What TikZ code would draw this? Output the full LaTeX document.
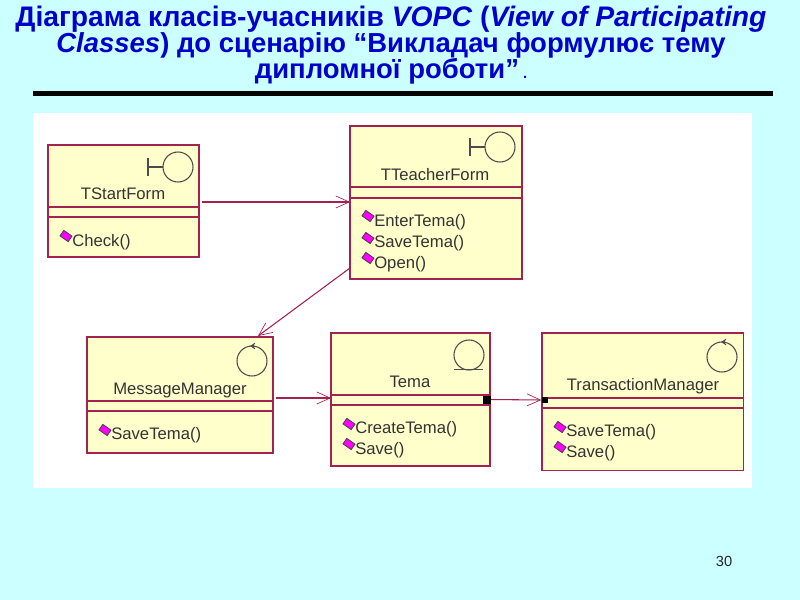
\documentclass[tikz,border=0pt]{standalone}
\usepackage{fontspec}
\setmainfont{Liberation Sans}
\usepackage{xcolor}
\usetikzlibrary{arrows.meta}
\definecolor{slidebg}{HTML}{CCFFFF}
\definecolor{boxfill}{HTML}{FFFFCC}
\definecolor{boxline}{HTML}{A3224F}
\definecolor{titleblue}{HTML}{0000CC}
\definecolor{markfill}{HTML}{FF00FF}
\tikzset{
  classbox/.style={draw=boxline,fill=boxfill,line width=1pt,minimum width=#1,inner sep=0pt},
  sepline/.style={draw=boxline,line width=0.9pt},
  classname/.style={font=\fontsize{12.5}{14}\selectfont,text=black!80,inner sep=0pt},
  methodname/.style={font=\fontsize{12.5}{14}\selectfont,text=black!80,anchor=west,inner sep=0pt},
  methodmark/.style={rectangle,rotate=-35,draw=black!75,fill=markfill,line width=0.6pt,minimum width=7.5pt,minimum height=5pt,inner sep=0pt},
  icon/.style={draw=black!70,line width=0.8pt},
  assoc/.style={draw=boxline,line width=0.8pt,-{Straight Barb[length=10pt,width=9pt,line width=0.5pt]}},
  portmark/.style={fill=black,inner sep=0pt,minimum size=#1}
}
\begin{document}
\begin{tikzpicture}[x=0.75pt,y=-0.75pt]
\useasboundingbox (0,0) rectangle (800,600);
\fill[slidebg] (0,0) rectangle (800,600);
\node[align=center,font=\fontsize{21.2}{19.5}\selectfont\bfseries,text=titleblue,inner sep=0pt] (title) at (391,45.5)
  {\lineskiplimit=-20pt Діаграма класів-учасників \textit{VOPC} (\textit{View of Participating}\\
   {\fontsize{20.6}{19.5}\selectfont\textit{Classes}) до сценарію “Викладач формулює тему}\\
   {\fontsize{20.6}{19.5}\selectfont дипломної роботи”}{\fontsize{11}{12}\selectfont\ .}};
\fill[black] (33,91) rectangle (773,96);
\fill[white] (33,113) rectangle (752,488);

% TStartForm
\node[classbox=113.25pt,minimum height=84pt] (startform) at (123.5,201) {};
\draw[sepline] (48,207) -- (199,207);
\draw[sepline] (48,217) -- (199,217);
\node[classname] (startname) at (123,194) {TStartForm};
\node[methodmark] (startm) at (66,236) {};
\node[methodname] at (72,242) {Check()};
\draw[icon] (178,167) circle (11.25pt);
\draw[icon] (148,158) -- (148,176);
\draw[icon] (148,167) -- (163,167);

% TTeacherForm
\node[classbox=129pt,minimum height=114.75pt] (teacherform) at (436,202.5) {};
\draw[sepline] (350,187) -- (522,187);
\draw[sepline] (350,198) -- (522,198);
\node[classname] (teachername) at (435,175) {TTeacherForm};
\node[methodmark] at (368,216) {};
\node[methodmark] at (368,238) {};
\node[methodmark] at (368,258) {};
\node[methodname] at (374,222) {EnterTema()};
\node[methodname] at (374,243) {SaveTema()};
\node[methodname] at (374,264) {Open()};
\draw[icon] (500,147) circle (11.25pt);
\draw[icon] (470,138) -- (470,156);
\draw[icon] (470,147) -- (485,147);

% MessageManager
\node[classbox=139.5pt,minimum height=87pt] (msgmanager) at (180,395) {};
\draw[sepline] (87,401) -- (273,401);
\draw[sepline] (87,411) -- (273,411);
\node[classname] (msgname) at (180,390.5) {MessageManager};
\node[methodmark] at (105,430) {};
\node[methodname] at (111,435.5) {SaveTema()};
\draw[icon] (252,361) circle (11.25pt);
\draw[icon,->,>={Straight Barb[length=3pt,width=4pt]}] (254,346) -- (250,346);

% Tema
\node[classbox=119.25pt,minimum height=99.75pt] (tema) at (410.5,399.5) {};
\draw[sepline] (331,395) -- (490,395);
\draw[sepline] (331,405) -- (490,405);
\node[classname] (temaname) at (410,382) {Tema};
\node[methodmark] at (349,424) {};
\node[methodmark] at (349,444) {};
\node[methodname] at (355,429.5) {CreateTema()};
\node[methodname] at (355,450.5) {Save()};
\draw[icon] (469,355) circle (11.25pt);
\draw[icon] (454,369.5) -- (483,369.5);
\node[portmark=6pt] (temaport) at (486.5,399.5) {};

% TransactionManager
\node[classbox=151pt,minimum height=103pt] (transmanager) at (642.5,401.5) {};
\draw[sepline] (542,398) -- (743,398);
\draw[sepline] (542,408) -- (743,408);
\node[classname] (transname) at (643,386) {TransactionManager};
\node[methodmark] at (560,427) {};
\node[methodmark] at (560,447) {};
\node[methodname] at (566,432) {SaveTema()};
\node[methodname] at (566,453) {Save()};
\draw[icon] (722,357) circle (11.25pt);
\draw[icon,->,>={Straight Barb[length=3pt,width=4pt]}] (725,342) -- (721,342);
\node[portmark=4.5pt] (transport) at (544.5,400) {};

% links between the classes
\coordinate (teacherout) at (350,268);
\coordinate (msgin) at (258,336);
\coordinate (msgout) at (276,398);
\coordinate (temain) at (331,398);
\coordinate (startout) at (202,202);
\coordinate (teacherin) at (350,202);
\draw[assoc] (startout) -- (teacherin);
\draw[assoc] (teacherout) -- (msgin);
\draw[assoc] (msgout) -- (temain);
\draw[assoc] (temaport.east) -- (transport.west);

\node[font=\fontsize{11}{13}\selectfont,text=black!85,inner sep=0pt] (pagenum) at (724,561) {30};
\end{tikzpicture}
\end{document}
